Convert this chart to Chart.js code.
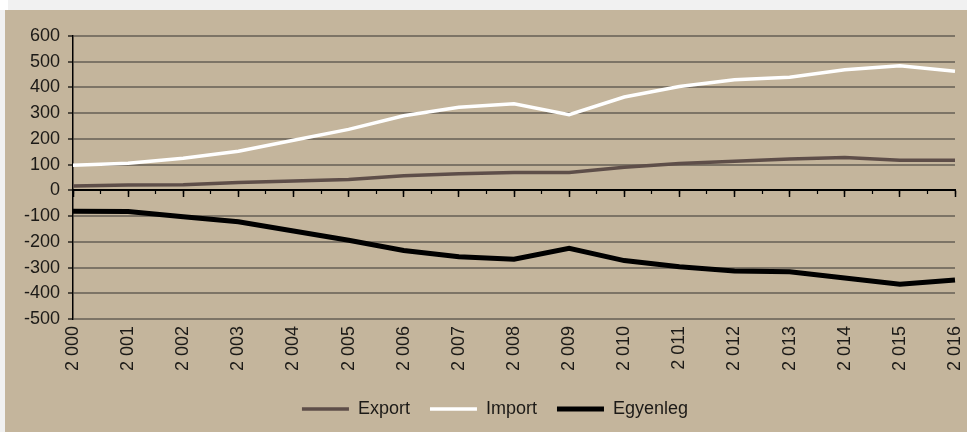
<!DOCTYPE html>
<html>
<head>
<meta charset="utf-8">
<script src="https://cdn.jsdelivr.net/npm/chart.js@4.4.0/dist/chart.umd.min.js"></script>
<style>
  html, body { margin: 0; padding: 0; background: #f1f1f1; }
  #panel { position: absolute; left: 5px; top: 10px; width: 962px; height: 422px; background: #c4b59c; overflow: hidden; }
  #corner { position: absolute; left: 0; top: 0; width: 8px; height: 10px; background: #fff; }
</style>
</head>
<body>
<div id="corner"></div>
<div id="panel"><canvas id="chart" width="962" height="422"></canvas></div>
<script>
  // Years on the x axis
  const years = ['2 000', '2 001', '2 002', '2 003', '2 004', '2 005', '2 006', '2 007', '2 008',
                 '2 009', '2 010', '2 011', '2 012', '2 013', '2 014', '2 015', '2 016'];

  const exportValues = [17, 21, 22, 31, 36, 42, 57, 65, 69, 69, 90, 104, 113, 122, 128, 117, 117];
  const importValues = [98, 105, 125, 152, 195, 237, 290, 323, 337, 294, 363, 404, 430, 440, 469, 484, 463];
  const balanceValues = [-81, -82, -103, -122, -158, -194, -234, -258, -268, -225, -273, -297, -313, -316, -341, -365, -348];

  const yTicks = { min: -500, max: 600, step: 100 };

  const fontFamily = '"Liberation Sans", Arial, sans-serif';
  const textColor = '#1c1a17';
  const gridColor = '#7d7466';

  // nudge the legend a bit to the right, as in the original
  const legendShift = {
    id: 'legendShift',
    afterLayout(chart) {
      if (chart.legend) {
        chart.legend.left += 15;
        chart.legend.right += 15;
      }
    }
  };

  const ctx = document.getElementById('chart');
  new Chart(ctx, {
    type: 'line',
    data: {
      labels: years,
      datasets: [
        { label: 'Export', data: exportValues, borderColor: '#5e4e49', backgroundColor: '#5e4e49', borderWidth: 3.5 },
        { label: 'Import', data: importValues, borderColor: '#ffffff', backgroundColor: '#ffffff', borderWidth: 3.5 },
        { label: 'Egyenleg', data: balanceValues, borderColor: '#000000', backgroundColor: '#000000', borderWidth: 5 }
      ]
    },
    options: {
      responsive: false,
      animation: false,
      elements: { point: { radius: 0 }, line: { tension: 0 } },
      layout: { padding: { top: 26, right: 12, bottom: 4, left: 0 } },
      plugins: {
        tooltip: { enabled: false },
        legend: {
          position: 'bottom',
          labels: {
            usePointStyle: true,
            pointStyle: 'line',
            pointStyleWidth: 47,
            padding: 20,
            color: textColor,
            font: { family: fontFamily, size: 18 }
          }
        }
      },
      scales: {
        x: {
          offset: false,
          grid: { display: false, drawTicks: false },
          border: { display: false },
          ticks: {
            color: textColor,
            font: { family: fontFamily, size: 18 },
            minRotation: 90,
            maxRotation: 90,
            autoSkip: false,
            padding: 7
          },
          afterFit: (scale) => {
            scale.height = 61;
            scale.paddingLeft = 0;
            scale.paddingRight = 0;
          }
        },
        // axis line at zero with major tick marks
        xMajor: {
          axis: 'x',
          type: 'linear',
          position: { y: 0 },
          min: 0,
          max: years.length - 1,
          ticks: { display: false, stepSize: 1 },
          grid: { drawOnChartArea: false, tickLength: 6, tickColor: '#000', tickWidth: 1.5 },
          border: { display: true, color: '#000', width: 2 }
        },
        // minor tick marks between the years
        xMinor: {
          axis: 'x',
          type: 'linear',
          position: { y: 0 },
          min: 0,
          max: years.length - 1,
          ticks: { display: false, stepSize: 0.5 },
          grid: { drawOnChartArea: false, tickLength: 4, tickColor: '#000', tickWidth: 1.2 },
          border: { display: false }
        },
        y: {
          min: yTicks.min,
          max: yTicks.max,
          ticks: {
            stepSize: yTicks.step,
            color: textColor,
            font: { family: fontFamily, size: 18 },
            padding: 8
          },
          grid: {
            color: (c) => (c.tick && c.tick.value === 0 ? 'rgba(0,0,0,0)' : gridColor),
            lineWidth: 2,
            tickColor: '#000',
            tickLength: 5,
            tickWidth: 1.2
          },
          border: { display: true, color: '#000', width: 1.5 },
          afterFit: (scale) => { scale.width = 68; }
        }
      }
    },
    plugins: [legendShift]
  });
</script>
</body>
</html>
